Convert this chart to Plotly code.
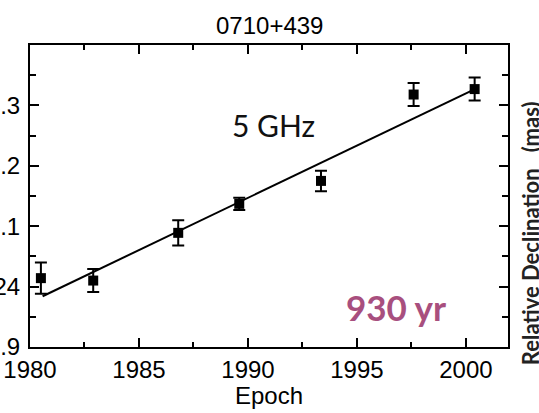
import plotly.graph_objects as go

# Data
epoch = [1980.5, 1982.9, 1986.8, 1989.6, 1993.35, 1997.6, 2000.4]
decl = [24.014, 24.010, 24.089, 24.137, 24.175, 24.318, 24.327]
decl_err = [0.026, 0.019, 0.021, 0.010, 0.017, 0.019, 0.019]

fit_epoch = [1980.58, 2000.41]
fit_decl = [23.984, 24.327]

x_ticks = [1980, 1985, 1990, 1995, 2000]
y_ticks = [23.9, 24.0, 24.1, 24.2, 24.3]
y_ticklabels = ["23.9", "24", "24.1", "24.2", "24.3"]

title_text = "0710+439"
x_title = "Epoch"
y_title = "Relative Declination\u00a0\u00a0\u00a0(mas)"
freq_label = "5 GHz"
period_label = "930 yr"

fig = go.Figure()
fig.add_trace(go.Scatter(
    x=fit_epoch, y=fit_decl, mode="lines",
    line=dict(color="black", width=2), showlegend=False, hoverinfo="skip"))
fig.add_trace(go.Scatter(
    x=epoch, y=decl, mode="markers",
    marker=dict(symbol="square", size=10, color="black"),
    error_y=dict(type="data", array=decl_err, visible=True,
                 color="black", thickness=2, width=6),
    showlegend=False))

axis_common = dict(showline=True, linecolor="black", linewidth=2,
                   mirror="ticks", ticks="inside", ticklen=9, tickwidth=2,
                   tickcolor="black", showgrid=False, zeroline=False,
                   automargin=False,
                   tickfont=dict(family="Liberation Sans, Arial", size=24, color="black"))

fig.update_xaxes(range=[1980, 2001.93], tickvals=x_ticks,
                 minor=dict(dtick=2.5, tick0=1980, ticks="inside", ticklen=5,
                            tickwidth=2, tickcolor="black"),
                 **axis_common)
fig.update_yaxes(range=[23.9, 24.4], tickvals=y_ticks, ticktext=y_ticklabels,
                 ticklabelstandoff=3,
                 minor=dict(dtick=0.05, tick0=23.9, ticks="inside", ticklen=6,
                            tickwidth=2, tickcolor="black"),
                 **axis_common)

annotations = [
    dict(text=title_text, x=0.5, y=1.063, xref="paper", yref="paper",
         showarrow=False, xanchor="center", yanchor="middle",
         font=dict(family="Liberation Sans, Arial", size=24, color="black")),
    dict(text=x_title, x=0.5, y=-0.162, xref="paper", yref="paper",
         showarrow=False, xanchor="center", yanchor="middle",
         font=dict(family="Liberation Sans, Arial", size=24, color="black")),
    dict(text=freq_label, x=0.51, y=0.735, xref="paper", yref="paper",
         showarrow=False, xanchor="center", yanchor="middle",
         font=dict(family="Lato, Noto Sans", size=30, color="#111111")),
    dict(text="<b>" + period_label + "</b>", x=0.766, y=0.132, xref="paper", yref="paper",
         showarrow=False, xanchor="center", yanchor="middle",
         font=dict(family="Lato, Noto Sans", size=35, color="#A84F7E")),
    dict(text="<b>" + y_title + "</b>", x=1.046, y=0.377, xref="paper", yref="paper",
         showarrow=False, xanchor="center", yanchor="middle", textangle=-90,
         font=dict(family="Lato, Noto Sans", size=22, color="#222222")),
]

fig.update_layout(width=539, height=413,
                  margin=dict(l=30, r=31, t=45, b=66, pad=0),
                  paper_bgcolor="white", plot_bgcolor="white",
                  annotations=annotations, showlegend=False)

fig.write_html("out.html", config={"displayModeBar": False},
               post_script="document.body.style.margin='0';document.body.style.overflow='hidden';")
